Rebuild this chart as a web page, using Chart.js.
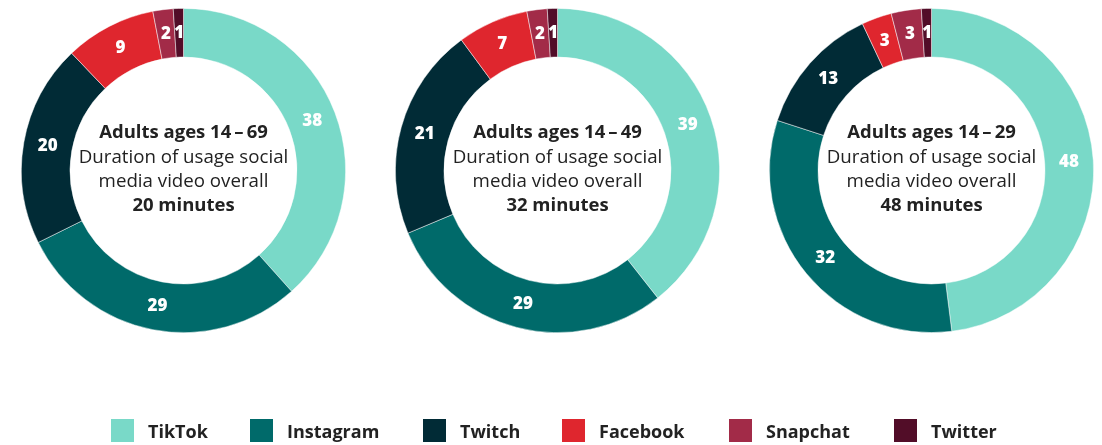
<!DOCTYPE html>
<html><head><meta charset="utf-8">
<script src="https://cdn.jsdelivr.net/npm/chart.js@4.4.1/dist/chart.umd.min.js"></script>
<style>
html,body{margin:0;padding:0;background:#fff;width:1102px;height:445px;overflow:hidden;font-family:"Open Sans",sans-serif;}
.wrap{position:absolute;width:325px;height:325px;top:7.5px;}
.wrap canvas{display:block;}
#legend{position:absolute;left:0;top:0;width:1102px;height:445px;pointer-events:none;}
.li{position:absolute;top:419px;height:23px;display:flex;align-items:center;}
.li .box{width:23px;height:23px;}
.li .lab{position:absolute;left:37px;top:1px;font-weight:700;font-size:18px;color:#222;white-space:nowrap;line-height:23px;}
</style></head>
<body>
<div class="wrap" id="w0" style="left:20.5px"><canvas id="c0"></canvas></div>
<div class="wrap" id="w1" style="left:394.5px"><canvas id="c1"></canvas></div>
<div class="wrap" id="w2" style="left:768.5px"><canvas id="c2"></canvas></div>
<div id="legend"></div>
<script>
const categories = ["TikTok","Instagram","Twitch","Facebook","Snapchat","Twitter"];
const colors = ["#79D9C8","#006A6A","#012B36","#DF262E","#A22B48","#520D28"];
const values14to69 = [38,29,20,9,2,1];
const values14to49 = [39,29,21,7,2,1];
const values14to29 = [48,32,13,3,3,1];
const groupTitles = ["Adults ages 14\u2009\u2013\u200969","Adults ages 14\u2009\u2013\u200949","Adults ages 14\u2009\u2013\u200929"];
const subtitleLines = ["Duration of usage social","media video overall"];
const durations = ["20 minutes","32 minutes","48 minutes"];
const seriesList = [values14to69, values14to49, values14to29];
const legendLeft = [111,250,423,562,729,894];

const FONT = '"Open Sans", sans-serif';

const valueLabels = {
  id:'valueLabels',
  afterDatasetsDraw(chart){
    const ctx = chart.ctx;
    const meta = chart.getDatasetMeta(0);
    const data = chart.data.datasets[0].data;
    ctx.save();
    ctx.fillStyle = '#fff';
    ctx.font = '800 17px ' + FONT;
    ctx.textAlign = 'center';
    ctx.textBaseline = 'middle';
    meta.data.forEach((arc,i)=>{
      const p = arc.tooltipPosition();
      ctx.fillText(String(data[i]), p.x, p.y);
    });
    ctx.restore();
  }
};

const centerText = {
  id:'centerText',
  afterDraw(chart){
    const o = chart.options.plugins.centerText;
    const ctx = chart.ctx;
    const meta = chart.getDatasetMeta(0);
    const a = meta.data[0];
    const cx = a.x, cy = a.y;
    ctx.save();
    ctx.fillStyle = '#222';
    ctx.textAlign = 'center';
    ctx.textBaseline = 'middle';
    ctx.font = '700 18.5px ' + FONT;
    ctx.fillText(o.title, cx, cy - 38);
    ctx.font = '400 18.7px ' + FONT;
    ctx.fillText(o.lines[0], cx, cy - 13);
    ctx.fillText(o.lines[1], cx, cy + 11);
    ctx.font = '700 18.5px ' + FONT;
    ctx.fillText(o.duration, cx, cy + 35);
    ctx.restore();
  }
};

seriesList.forEach((vals, k)=>{
  new Chart(document.getElementById('c'+k), {
    type:'doughnut',
    data:{labels:categories, datasets:[{data:vals, backgroundColor:colors, borderColor:'rgba(255,255,255,0.6)', borderWidth:0.8, hoverOffset:0}]},
    options:{
      responsive:true, maintainAspectRatio:false, animation:false,
      cutout:'70%',
      layout:{padding:0},
      plugins:{legend:{display:false}, tooltip:{enabled:false},
        centerText:{title:groupTitles[k], lines:subtitleLines, duration:durations[k]}}
    },
    plugins:[valueLabels, centerText]
  });
});

const lg = document.getElementById('legend');
categories.forEach((c,i)=>{
  const d = document.createElement('div');
  d.className='li';
  d.style.left = legendLeft[i]+'px';
  d.innerHTML = '<div class="box" style="background:'+colors[i]+'"></div><div class="lab">'+c+'</div>';
  lg.appendChild(d);
});
</script>
</body></html>
